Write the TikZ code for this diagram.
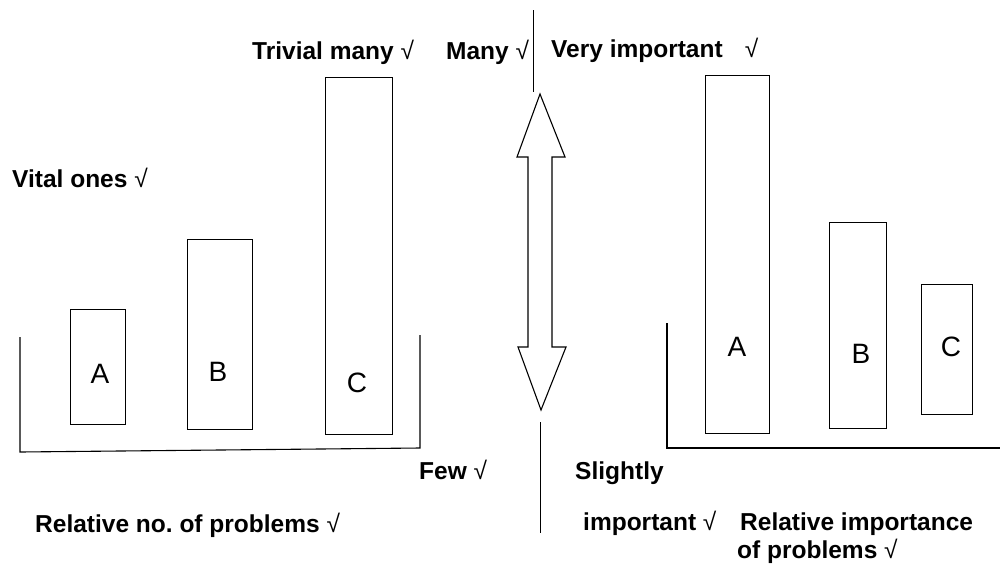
\documentclass[tikz,border=0pt]{standalone}
\usepackage{fontspec}
\setmainfont{Liberation Sans}
\newfontfamily\thinf{Liberation Sans}
\newcommand\ck{{\thinf\mdseries √}}
\frenchspacing
\begin{document}
\begin{tikzpicture}[x=1pt,y=-1pt,
  bar/.style={draw, line width=1.1pt, inner sep=0pt, anchor=north west},
  axis/.style={line width=1.1pt},
  lbl/.style={font=\fontsize{24.5}{27}\selectfont\bfseries, anchor=base west, inner sep=0pt},
  let/.style={font=\fontsize{28}{30}\selectfont, inner sep=0pt}
]
\useasboundingbox (0,0) rectangle (1000,565);
% left chart
\node[bar, minimum width=55pt, minimum height=115pt] (LA) at (70,309) {};
\node[bar, minimum width=65pt, minimum height=190pt] (LB) at (187,239) {};
\node[bar, minimum width=67pt, minimum height=357pt] (LC) at (325,77) {};
\node[let] (LAl) at (100,374) {A};
\node[let] (LBl) at (218,372) {B};
\node[let] (LCl) at (357,383) {C};
\coordinate (L1) at (20,337);
\coordinate (L2) at (20,452);
\coordinate (L3) at (420,448);
\coordinate (L4) at (420,335);
\draw[axis] (L1) -- (L2) -- (L3) -- (L4);
% right chart
\node[bar, minimum width=64pt, minimum height=358pt] (RA) at (705,75) {};
\node[bar, minimum width=57pt, minimum height=206pt] (RB) at (829,222) {};
\node[bar, minimum width=51pt, minimum height=130pt] (RC) at (921,284) {};
\node[let] (RAl) at (737,347) {A};
\node[let] (RBl) at (861,354) {B};
\node[let] (RCl) at (951,347) {C};
\coordinate (R1) at (667,323);
\coordinate (R2) at (667,448);
\coordinate (R3) at (1000,448);
\draw[axis] (R1) -- (R2) -- (R3);
% center lines
\coordinate (C1) at (533,10);
\coordinate (C2) at (533,92);
\coordinate (C3) at (540,422);
\coordinate (C4) at (540,533);
\draw[line width=0.9pt] (C1) -- (C2);
\draw[line width=0.9pt] (C3) -- (C4);
% double arrow
\draw[line width=1.1pt, line join=miter] (540,94) -- (565,157) -- (552,157) -- (552,347) -- (566,347)
  -- (541,410) -- (518,347) -- (528,347) -- (528,157) -- (517,157) -- cycle;
% labels
\node[lbl] (t1) at (252,59) {Trivial many \ck};
\node[lbl] (t2) at (446,59) {Many \ck};
\node[lbl] (t3) at (551,57) {Very important\hspace{22pt}\ck};
\node[lbl] (t4) at (12,187) {Vital ones \ck};
\node[lbl] (t5) at (419,479) {Few \ck};
\node[lbl] (t6) at (35,532) {Relative no. of problems \ck};
\node[lbl] (t7) at (575,479) {Slightly};
\node[lbl] (t8) at (583,530) {important \ck};
\node[lbl] (t9) at (740,530) {Relative importance};
\node[lbl] (t10) at (737,558) {of problems \ck};
\end{tikzpicture}
\end{document}
